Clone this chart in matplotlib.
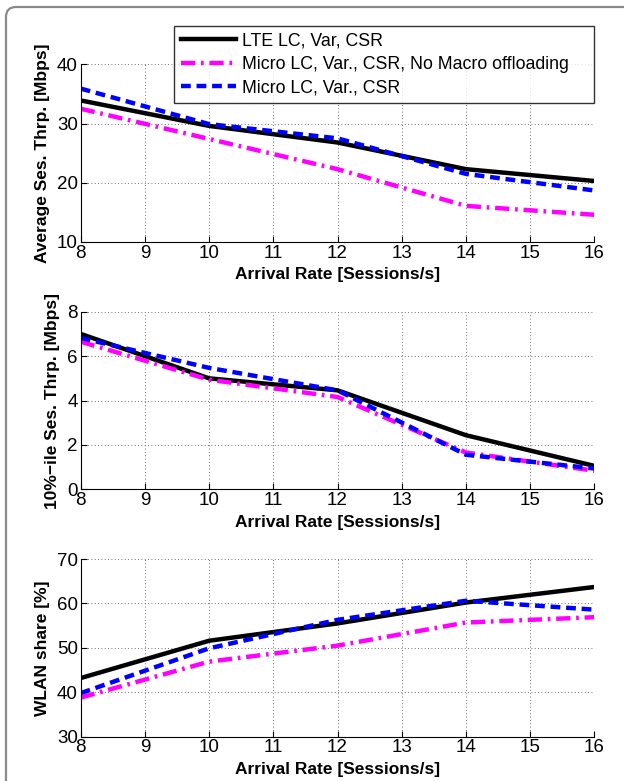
import numpy as np
import matplotlib.pyplot as plt
from matplotlib.patches import FancyBboxPatch
from matplotlib.transforms import IdentityTransform

plt.rcParams['font.family'] = ['Liberation Sans', 'DejaVu Sans']

rate = [8, 10, 12, 14, 16]

# average session throughput [Mbps]
avg_lte = [33.9, 29.6, 26.8, 22.3, 20.3]
avg_micro_nomacro = [32.5, 27.4, 22.3, 16.1, 14.6]
avg_micro = [35.9, 29.9, 27.5, 21.5, 18.7]

# 10%-ile session throughput [Mbps]
p10_lte = [7.0, 5.0, 4.46, 2.44, 1.06]
p10_micro_nomacro = [6.65, 4.94, 4.16, 1.66, 0.84]
p10_micro = [6.82, 5.47, 4.46, 1.56, 0.94]

# WLAN share [%]
wlan_lte = [43.2, 51.6, 55.5, 60.2, 63.7]
wlan_micro_nomacro = [38.8, 46.9, 50.5, 55.7, 56.9]
wlan_micro = [39.8, 49.9, 56.3, 60.6, 58.6]

labels = ["LTE LC, Var, CSR",
          "Micro LC, Var., CSR, No Macro offloading",
          "Micro LC, Var., CSR"]

fig = plt.figure(figsize=(6.24, 7.81), dpi=100)

# rounded frame around the figure (runs off the right and bottom edges), pixel coords
frame = FancyBboxPatch((6, -300), 1000, 300 + 781 - 7,
                       boxstyle="round,pad=0,rounding_size=10",
                       transform=IdentityTransform(), fill=False,
                       edgecolor="#8a8a8a", linewidth=1.6)
fig.add_artist(frame)

left, width, height = 80.7/624, 513.6/624, 177.7/781
bottoms = [1 - 242/781, 1 - 489.4/781, 1 - 736.7/781]

panels = [
    (avg_lte, avg_micro_nomacro, avg_micro, (10, 40), [10, 20, 30, 40], "Average Ses. Thrp. [Mbps]"),
    (p10_lte, p10_micro_nomacro, p10_micro, (0, 8), [0, 2, 4, 6, 8], "10%\u2212ile Ses. Thrp. [Mbps]"),
    (wlan_lte, wlan_micro_nomacro, wlan_micro, (30, 70), [30, 40, 50, 60, 70], "WLAN share [%]"),
]

handles = None
for b, (lte, nomacro, micro, ylim, yticks, ylabel) in zip(bottoms, panels):
    ax = fig.add_axes([left, b, width, height])
    h1, = ax.plot(rate, lte, color="black", lw=3.2, solid_joinstyle="miter")
    h2, = ax.plot(rate, nomacro, color="#ff00ff", lw=3.2, linestyle=(0, (3.2, 1.3, 0.6, 1.3)))
    h3, = ax.plot(rate, micro, color="blue", lw=3.2, linestyle=(0, (2.2, 1.3)))
    if handles is None:
        handles = [h1, h2, h3]
    ax.set_xlim(8, 16)
    ax.set_ylim(*ylim)
    ax.set_xticks(range(8, 17))
    ax.set_yticks(yticks)
    ax.grid(True, linestyle=(0, (1, 3)), color="#444444", linewidth=0.6)
    ax.spines["top"].set_visible(False)
    ax.spines["right"].set_visible(False)
    ax.tick_params(direction="in", length=4, labelsize=13.5, pad=2)
    ax.set_xlabel("Arrival Rate [Sessions/s]", fontsize=12.5, fontweight="bold", labelpad=4)
    ax.set_ylabel(ylabel, fontsize=12.5, fontweight="bold", labelpad=5)

leg = fig.legend(handles, labels, loc="upper left",
                 bbox_to_anchor=(174/624, 1 - 101/781, 420/624, 75.5/781),
                 mode="expand", fontsize=12.8, frameon=True, fancybox=False,
                 handlelength=3.1, handletextpad=0.3, borderpad=0.4,
                 labelspacing=0.35, borderaxespad=0)
leg.get_frame().set_edgecolor("black")
leg.get_frame().set_linewidth(1.0)

fig.savefig("out.png", dpi=100)
